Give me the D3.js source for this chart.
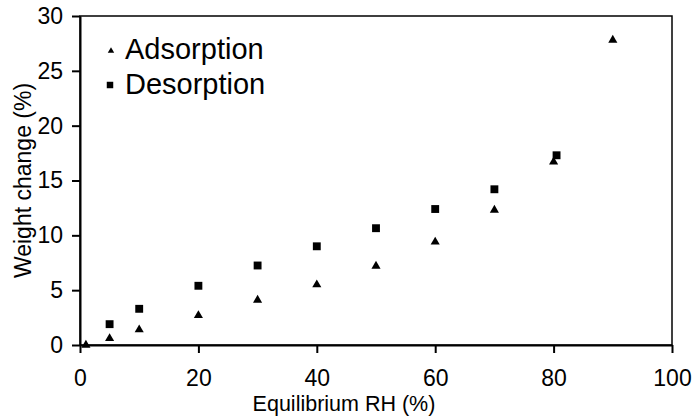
<!DOCTYPE html>
<html>
<head>
<meta charset="utf-8">
<script src="https://cdn.jsdelivr.net/npm/d3@7"></script>
<style>
  body { margin: 0; background: #fff; }
  svg { display: block; font-family: "Liberation Sans", Arial, sans-serif; }
  .axis path, .axis line { stroke: #000; stroke-width: 2; }
  .axis text { font-size: 23px; fill: #000; }
</style>
</head>
<body>
<script>
// Equilibrium RH (%) and weight change (%)
const adsRH  = [1, 5, 10, 20, 30, 40, 50, 60, 70, 80, 90];
const adsW   = [0, 0.6, 1.4, 2.7, 4.1, 5.5, 7.2, 9.4, 12.3, 16.7, 27.8];
const desRH  = [5, 10, 20, 30, 40, 50, 60, 70, 80.5];
const desW   = [1.9, 3.3, 5.4, 7.25, 9.0, 10.65, 12.4, 14.2, 17.3];
const xTicks = [0, 20, 40, 60, 80, 100];
const yTicks = [0, 5, 10, 15, 20, 25, 30];
const seriesNames = ["Adsorption", "Desorption"];

var margin = {top: 16, right: 21, bottom: 75, left: 80},
    width = 693 - margin.left - margin.right,
    height = 420 - margin.top - margin.bottom;

var x = d3.scaleLinear().domain([0, 100]).range([0, width]);
var y = d3.scaleLinear().domain([0, 30]).range([height, 0]);

var svg = d3.select("body").append("svg")
    .attr("width", 693)
    .attr("height", 420)
    .append("g")
    .attr("transform", "translate(" + margin.left + "," + margin.top + ")");

// plot frame (top and right)
svg.append("rect")
    .attr("x", 0).attr("y", 0)
    .attr("width", width).attr("height", height)
    .attr("fill", "none")
    .attr("stroke", "#000")
    .attr("stroke-width", 1.5);

var xAxis = d3.axisBottom(x).tickValues(xTicks).tickSize(8).tickSizeOuter(0).tickPadding(17);
var yAxis = d3.axisLeft(y).tickValues(yTicks).tickSize(8).tickSizeOuter(0).tickPadding(9);

svg.append("g")
    .attr("class", "x axis")
    .attr("transform", "translate(0," + height + ")")
    .call(xAxis);
svg.append("g")
    .attr("class", "y axis")
    .call(yAxis);

// axis titles
svg.append("text")
    .attr("x", width / 2 - 32)
    .attr("y", height + 66)
    .attr("text-anchor", "middle")
    .attr("font-size", 21.5)
    .text("Equilibrium RH (%)");

svg.append("text")
    .attr("transform", "translate(" + (-49) + "," + (height / 2) + ") rotate(-90)")
    .attr("text-anchor", "middle")
    .attr("font-size", 23)
    .text("Weight change (%)");

var tri = d3.symbol().type(d3.symbolTriangle).size(36);
var sq = d3.symbol().type(d3.symbolSquare).size(62);

svg.append("g").selectAll("path")
    .data(adsRH.map((r, i) => [r, adsW[i]]))
    .enter().append("path")
    .attr("d", tri)
    .attr("transform", d => "translate(" + x(d[0]) + "," + y(d[1]) + ")")
    .attr("fill", "#000");

svg.append("g").selectAll("path")
    .data(desRH.map((r, i) => [r, desW[i]]))
    .enter().append("path")
    .attr("d", sq)
    .attr("transform", d => "translate(" + x(d[0]) + "," + y(d[1]) + ")")
    .attr("fill", "#000");

// legend
var legend = svg.append("g").attr("transform", "translate(30,0)");
legend.append("path")
    .attr("d", d3.symbol().type(d3.symbolTriangle).size(18))
    .attr("transform", "translate(1,35)");
legend.append("path")
    .attr("d", d3.symbol().type(d3.symbolSquare).size(42))
    .attr("transform", "translate(0,69)");
legend.selectAll("text")
    .data(seriesNames)
    .enter().append("text")
    .attr("x", 15)
    .attr("y", (d, i) => 43 + i * 35)
    .attr("font-size", 29)
    .text(d => d);
</script>
</body>
</html>
